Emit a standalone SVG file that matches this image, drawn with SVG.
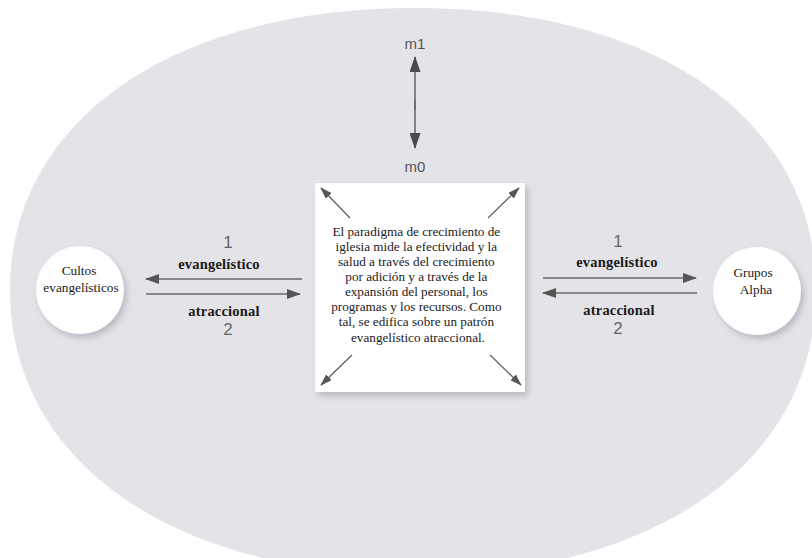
<svg xmlns="http://www.w3.org/2000/svg" width="812" height="558" viewBox="0 0 812 558">
<style>
.serif{font-family:"Liberation Serif","Times New Roman",serif;fill:#1a1a1a}
.node{font-size:13.3px;text-anchor:middle}
.body{font-size:13.2px;text-anchor:middle}
.lab{font-family:"Liberation Serif","Times New Roman",serif;font-weight:bold;font-size:14.5px;letter-spacing:0.2px;text-anchor:middle;fill:#1a1a1a}
.num{font-family:"Liberation Sans",Arial,sans-serif;font-size:17px;text-anchor:middle;fill:#666}
.m{font-family:"Liberation Sans",Arial,sans-serif;font-size:15px;text-anchor:middle;fill:#555}
.ln{stroke:#6a6a6a;stroke-width:1.6;fill:none}
.dg{stroke:#606060;stroke-width:1.3;fill:none}
</style>
<defs>
<marker id="ah" viewBox="0 0 14 10" refX="13" refY="5" markerWidth="14" markerHeight="10" markerUnits="userSpaceOnUse" orient="auto">
<path d="M0,0 L14,5 L0,10 Z" fill="#555"/>
</marker>
<marker id="ahs" viewBox="0 0 12 8" refX="11" refY="4" markerWidth="12" markerHeight="8" markerUnits="userSpaceOnUse" orient="auto">
<path d="M0,0 L12,4 L0,8 Z" fill="#555"/>
</marker>
<marker id="ahv" viewBox="0 0 16 11" refX="15" refY="5.5" markerWidth="16" markerHeight="11" markerUnits="userSpaceOnUse" orient="auto">
<path d="M0,0 L16,5.5 L0,11 Z" fill="#4a4a4a"/>
</marker>
<filter id="sh" x="-20%" y="-20%" width="150%" height="150%">
<feDropShadow dx="3" dy="4" stdDeviation="3" flood-color="#8a8a95" flood-opacity="0.45"/>
</filter>
</defs>
<rect width="812" height="558" fill="#ffffff"/>
<path id="backdrop" d="M10,290 C10,121 172,8 415,8 C658,8 816,121 816,290 C816,461 658,575 415,575 C172,575 10,461 10,290 Z" fill="#e4e3e8"/>

<g id="connectors">
<line class="ln" x1="415" y1="110" x2="415" y2="57" marker-end="url(#ahv)"/>
<line class="ln" x1="415" y1="100" x2="415" y2="148" marker-end="url(#ahv)"/>
<line class="ln" x1="302" y1="279" x2="146" y2="279" marker-end="url(#ah)"/>
<line class="ln" x1="146" y1="294" x2="300" y2="294" marker-end="url(#ah)"/>
<line class="ln" x1="543" y1="278" x2="696" y2="278" marker-end="url(#ah)"/>
<line class="ln" x1="697" y1="293" x2="543" y2="293" marker-end="url(#ah)"/>
</g>

<g id="labels">
<text class="m" x="415" y="49">m1</text>
<text class="m" x="415" y="172">m0</text>
<text class="num" x="228" y="248">1</text>
<text class="lab" x="219" y="269">evangelístico</text>
<text class="lab" x="224" y="316">atraccional</text>
<text class="num" x="228" y="335">2</text>
<text class="num" x="618" y="247">1</text>
<text class="lab" x="617" y="267">evangelístico</text>
<text class="lab" x="619" y="315">atraccional</text>
<text class="num" x="618" y="334">2</text>
</g>

<g id="center">
<rect x="315" y="183" width="210" height="209" fill="#ffffff" filter="url(#sh)"/>
<line class="dg" x1="350" y1="218" x2="321" y2="188" marker-end="url(#ahs)"/>
<line class="dg" x1="488" y1="218" x2="519" y2="188" marker-end="url(#ahs)"/>
<line class="dg" x1="352" y1="355" x2="321" y2="385" marker-end="url(#ahs)"/>
<line class="dg" x1="490" y1="355" x2="521" y2="385" marker-end="url(#ahs)"/>
<text class="serif body">
<tspan x="418" y="236">El paradigma de crecimiento de</tspan>
<tspan x="418" y="251">iglesia mide la efectividad y la</tspan>
<tspan x="418" y="266">salud a través del crecimiento</tspan>
<tspan x="418" y="281">por adición y a través de la</tspan>
<tspan x="418" y="296">expansión del personal, los</tspan>
<tspan x="418" y="311">programas y los recursos. Como</tspan>
<tspan x="418" y="326">tal, se edifica sobre un patrón</tspan>
<tspan x="418" y="342">evangelístico atraccional.</tspan>
</text>
</g>

<g id="cultos">
<circle cx="80" cy="290" r="44" fill="#ffffff" filter="url(#sh)"/>
<text class="serif node"><tspan x="79" y="275">Cultos</tspan><tspan x="81" y="292">evangelísticos</tspan></text>
</g>

<g id="alpha">
<circle cx="757" cy="291" r="44" fill="#ffffff" filter="url(#sh)"/>
<text class="serif node"><tspan x="753" y="277">Grupos</tspan><tspan x="756" y="294">Alpha</tspan></text>
</g>
</svg>
